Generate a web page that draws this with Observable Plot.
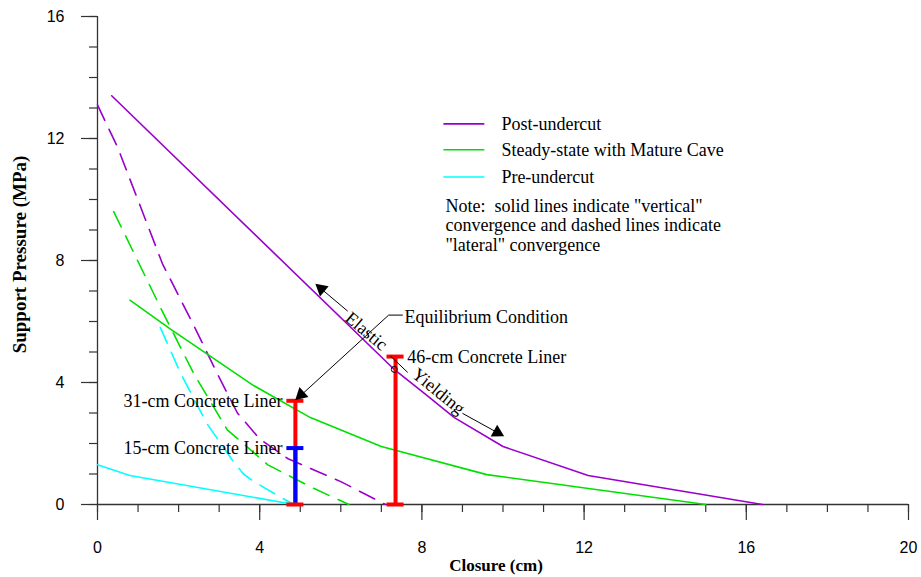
<!DOCTYPE html>
<html>
<head>
<meta charset="utf-8">
<script src="https://cdn.jsdelivr.net/npm/d3@7"></script>
<script src="https://cdn.jsdelivr.net/npm/@observablehq/plot@0.6"></script>
<style>
  html, body { margin: 0; padding: 0; background: #fff; }
  #chart { width: 921px; height: 577px; }
</style>
</head>
<body>
<div id="chart"></div>
<script>
// ---- Data ----
const seriesNames = ["Post-undercut", "Steady-state with Mature Cave", "Pre-undercut"];
const seriesColors = ["#9900cc", "#00e000", "#00ffff"];

// solid = "vertical" convergence, dashed = "lateral" convergence
const postSolidX = [0.35, 7.3, 8.1, 8.8, 10.0, 12.1, 16.4];
const postSolidY = [13.4, 4.45, 3.6, 2.85, 1.9, 0.95, 0];
const postDashX = [0, 0.5, 1.6, 2.4, 2.95, 3.45, 4.0, 4.7, 6.0, 7.1];
const postDashY = [13.1, 11.7, 7.9, 5.8, 4.3, 3.0, 2.15, 1.5, 0.75, 0];

const steadySolidX = [0.8, 1.8, 3.85, 5.25, 7.0, 9.6, 15.0];
const steadySolidY = [6.7, 5.75, 3.9, 2.85, 1.9, 0.98, 0];
const steadyDashX = [0.4, 1.63, 2.37, 3.2, 4.2, 5.33, 6.2];
const steadyDashY = [9.6, 6.25, 4.3, 2.45, 1.3, 0.53, 0];

const preSolidX = [0, 0.8, 4.85];
const preSolidY = [1.3, 0.95, 0];
const preDashX = [1.55, 2.05, 2.7, 3.3, 3.6, 3.8, 4.5, 4.85];
const preDashY = [5.8, 4.3, 2.65, 1.5, 1.0, 0.8, 0.25, 0];

// concrete liners (equilibrium bars)
const linerNames = ["31-cm Concrete Liner", "15-cm Concrete Liner", "46-cm Concrete Liner"];
const linerX = [4.88, 4.88, 7.35];
const linerTop = [3.4, 1.85, 4.85];
const linerColors = ["#ff0000", "#0000ff", "#ff0000"];

// axis ticks
const xMajorTicks = [0, 4, 8, 12, 16, 20];
const yMajorTicks = [0, 4, 8, 12, 16];
const xMinorTicks = d3.range(0, 21, 1);
const yMinorTicks = d3.range(0, 17, 1);

const noteLines = [
  "Note:  solid lines indicate \"vertical\"",
  "convergence and dashed lines indicate",
  "\"lateral\" convergence"
];

// ---- build tables ----
const zip = (xs, ys) => xs.map((x, i) => ({x, y: ys[i]}));
const solidSeries = [zip(postSolidX, postSolidY), zip(steadySolidX, steadySolidY), zip(preSolidX, preSolidY)];
const dashSeries = [zip(postDashX, postDashY), zip(steadyDashX, steadyDashY), zip(preDashX, preDashY)];

const serif = "'Liberation Serif', 'Times New Roman', serif";
const sans = "'Liberation Sans', Arial, sans-serif";

const capHalf = 0.21;
const liners = linerNames.map((n, i) => ({name: n, x: linerX[i], top: linerTop[i], color: linerColors[i]}));

// legend placement (data coordinates)
const legendX1 = 8.53, legendX2 = 9.54, legendTextX = 9.96;
const legendY = [12.48, 11.63, 10.74];
const legend = seriesNames.map((n, i) => ({name: n, color: seriesColors[i], y: legendY[i]}));
const noteY = [9.79, 9.17, 8.51];
const notes = noteLines.map((t, i) => ({t, y: noteY[i]}));

// annotation arrows
const arrows = [
  {x1: 6.17, y1: 6.34, x2: 5.5, y2: 7.09},     // Elastic
  {x1: 9.0, y1: 2.99, x2: 9.9, y2: 2.33}       // Yielding
];
const arrowHeads = [
  {x: 5.52, y: 7.07, rot: -50},
  {x: 9.86, y: 2.36, rot: 119},
  {x: 5.02, y: 3.6, rot: -132}
];

const marks = [];

// axes lines
marks.push(Plot.ruleX([0], {y1: 0, y2: 16, stroke: "#333", strokeWidth: 1.3}));
marks.push(Plot.ruleY([0], {x1: 0, x2: 20, stroke: "#333", strokeWidth: 1.3}));

// ticks
marks.push(Plot.axisX(xMinorTicks, {tickSize: 8, text: null, stroke: "#333", strokeWidth: 1.2}));
marks.push(Plot.axisX(xMajorTicks, {tickSize: 16, tickPadding: 21, stroke: "#333", strokeWidth: 1.2,
  fontSize: 16, fontFamily: sans, fill: "#000", label: null}));
marks.push(Plot.axisY(yMinorTicks, {tickSize: 8, text: null, stroke: "#333", strokeWidth: 1.2}));
marks.push(Plot.axisY(yMajorTicks, {tickSize: 16, tickPadding: 17, stroke: "#333", strokeWidth: 1.2,
  fontSize: 16, fontFamily: sans, fill: "#000", label: null}));

// axis titles
marks.push(Plot.text(["Support Pressure (MPa)"], {frameAnchor: "left", textAnchor: "middle", dx: -78, dy: -6, rotate: -90,
  fontSize: 19, fontWeight: "bold", fontFamily: serif, fill: "#000"}));
marks.push(Plot.text(["Closure (cm)"], {frameAnchor: "bottom", dx: -7, dy: 66,
  fontSize: 17, fontWeight: "bold", fontFamily: serif, fill: "#000"}));

// dashed curves
dashSeries.forEach((s, i) => {
  marks.push(Plot.line(s, {x: "x", y: "y", stroke: seriesColors[i], strokeWidth: 1.6,
    strokeDasharray: "17,10", curve: "linear"}));
});
// solid curves
solidSeries.forEach((s, i) => {
  marks.push(Plot.line(s, {x: "x", y: "y", stroke: seriesColors[i], strokeWidth: 1.6, curve: "linear"}));
});

// liner bars
const red = liners.filter(d => d.color === "#ff0000");
const blue = liners.filter(d => d.color === "#0000ff");
marks.push(Plot.ruleX(red, {x: "x", y1: 0, y2: "top", stroke: "color", strokeWidth: 4}));
marks.push(Plot.ruleY(red, {y: "top", x1: d => d.x - capHalf, x2: d => d.x + capHalf, stroke: "color", strokeWidth: 4}));
marks.push(Plot.ruleX(blue, {x: "x", y1: 0, y2: "top", stroke: "color", strokeWidth: 4}));
marks.push(Plot.ruleY(blue, {y: "top", x1: d => d.x - capHalf, x2: d => d.x + capHalf, stroke: "color", strokeWidth: 4}));
marks.push(Plot.ruleY(red, {y: 0, x1: d => d.x - capHalf, x2: d => d.x + capHalf, stroke: "color", strokeWidth: 4}));

// liner labels
marks.push(Plot.text(liners.slice(0, 2), {x: d => d.x - 0.32, y: "top", text: "name", textAnchor: "end",
  fontSize: 18, fontFamily: serif, fill: "#000"}));
marks.push(Plot.text(liners.slice(2), {x: d => d.x + 0.29, y: "top", dy: 1, text: "name", textAnchor: "start",
  fontSize: 18, fontFamily: serif, fill: "#000"}));

// Equilibrium condition annotation
marks.push(Plot.text(["Equilibrium Condition"], {x: 7.57, y: 6.14, textAnchor: "start",
  fontSize: 18, fontFamily: serif, fill: "#000"}));
marks.push(Plot.line([{x: 7.52, y: 6.21}, {x: 7.18, y: 6.21}, {x: 5.0, y: 3.56}], {x: "x", y: "y", stroke: "#000", strokeWidth: 1}));
marks.push(Plot.link(arrows, {x1: "x1", y1: "y1", x2: "x2", y2: "y2", stroke: "#000", strokeWidth: 1}));
marks.push(Plot.dot(arrowHeads, {x: "x", y: "y", symbol: "triangle", r: 5, fill: "#000", stroke: "none", rotate: "rot"}));

// Elastic / Yielding labels
marks.push(Plot.text(["Elastic"], {x: 6.63, y: 5.68, rotate: 40, fontSize: 18, fontFamily: serif, fill: "#000"}));
marks.push(Plot.text(["Yielding"], {x: 8.41, y: 3.71, rotate: 39, fontSize: 18, fontFamily: serif, fill: "#000"}));
// transition point marker
marks.push(Plot.link([{x1: 7.23, y1: 4.86, x2: 7.65, y2: 4.33}], {x1: "x1", y1: "y1", x2: "x2", y2: "y2", stroke: "#000", strokeWidth: 1}));
marks.push(Plot.dot([{x: 7.32, y: 4.43}], {x: "x", y: "y", r: 3, stroke: "#000", fill: "none", strokeWidth: 1}));

// legend
marks.push(Plot.link(legend, {x1: legendX1, x2: legendX2, y1: "y", y2: "y", stroke: "color", strokeWidth: 1.6}));
marks.push(Plot.text(legend, {x: legendTextX, y: "y", text: "name", textAnchor: "start",
  fontSize: 18, fontFamily: serif, fill: "#000"}));
marks.push(Plot.text(notes, {x: 8.58, y: "y", text: "t", textAnchor: "start",
  fontSize: 18, fontFamily: serif, fill: "#000"}));

const chart = Plot.plot({
  width: 921,
  height: 577,
  marginLeft: 97,
  marginRight: 13,
  marginTop: 16,
  marginBottom: 73,
  x: {domain: [0, 20], label: null},
  y: {domain: [0, 16], label: null},
  style: {background: "#fff", overflow: "visible"},
  marks
});
document.getElementById("chart").appendChild(chart);
</script>
</body>
</html>
